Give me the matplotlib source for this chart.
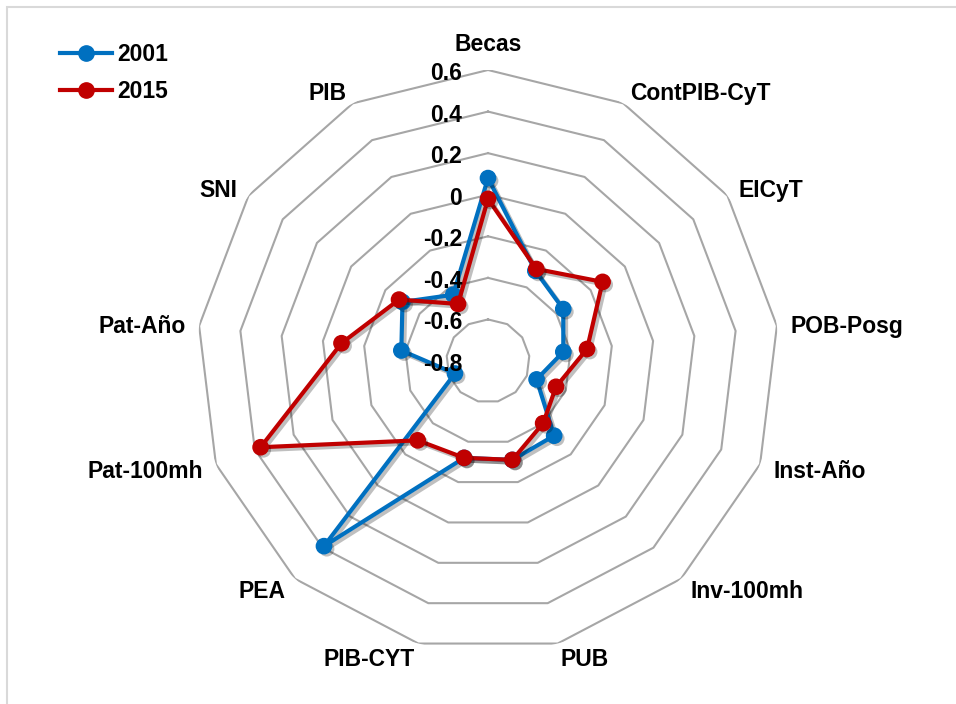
import numpy as np
import matplotlib
matplotlib.use("Agg")
import matplotlib.pyplot as plt
import matplotlib.patheffects as pe
from matplotlib.transforms import ScaledTranslation
from matplotlib.lines import Line2D
from matplotlib.patches import Rectangle

categories = ["Becas", "ContPIB-CyT", "EICyT", "POB-Posg", "Inst-Año", "Inv-100mh",
              "PUB", "PIB-CYT", "PEA", "Pat-100mh", "Pat-Año", "SNI", "PIB"]
v2001 = [0.08, -0.31, -0.36, -0.435, -0.55, -0.32, -0.31, -0.32, 0.39, -0.63, -0.38, -0.30, -0.44]
v2015 = [-0.02, -0.30, -0.13, -0.32, -0.45, -0.40, -0.31, -0.32, -0.29, 0.37, -0.09, -0.28, -0.49]
ring_values = [-0.8, -0.6, -0.4, -0.2, 0, 0.2, 0.4, 0.6]
ring_labels = ["-0.8", "-0.6", "-0.4", "-0.2", "0", "0.2", "0.4", "0.6"]
series_names = ["2001", "2015"]
colors = ["#0070C0", "#C00000"]

plt.rcParams['font.family'] = ['Liberation Sans', 'DejaVu Sans']
FS = 16.5

W, H = 956, 704
fig = plt.figure(figsize=(W / 100, H / 100), dpi=100)
fig.patch.set_facecolor("white")

cx, cy, R = 488, 361, 291
ax = fig.add_axes([(cx - R) / W, 1 - (cy + R) / H, 2 * R / W, 2 * R / H], projection="polar")
ax.set_theta_zero_location("N")
ax.set_theta_direction(-1)
ax.set_ylim(ring_values[0], ring_values[-1])
ax.set_xticks([])
ax.set_yticks([])
ax.grid(False)
ax.spines["polar"].set_visible(False)
ax.patch.set_alpha(0)

n = len(categories)
theta = np.arange(n) * 2 * np.pi / n
theta_c = np.append(theta, theta[0])

# polygon grid rings
for v in ring_values[1:]:
    ax.plot(theta_c, [v] * (n + 1), color="#a6a6a6", lw=1.5, zorder=1)

line_fx = [pe.SimpleLineShadow(offset=(2, -2), shadow_color="k", alpha=0.25), pe.Normal()]
mark_fx = [pe.SimplePatchShadow(offset=(2, -2), shadow_rgbFace="k", alpha=0.25), pe.Normal()]
for vals, col, z in [(v2001, colors[0], 3), (v2015, colors[1], 5)]:
    vc = np.append(vals, vals[0])
    ax.plot(theta_c, vc, color=col, lw=3, zorder=z, path_effects=line_fx, solid_joinstyle="round")
    ax.plot(theta, vals, linestyle="none", marker="o", ms=11, color=col,
            markeredgecolor=col, zorder=z + 0.5, path_effects=mark_fx)

# category labels
rlab = ring_values[-1] + 14 / (41.7 / 0.2)
for t, lab in zip(theta, categories):
    s = np.sin(t)
    if s > 0.05:
        ha = "left"
    elif s < -0.05:
        ha = "right"
    else:
        ha = "center"
    va = "bottom" if abs(s) < 0.05 else "center_baseline"
    ax.text(t, rlab, lab, ha=ha, va=va, fontsize=FS, fontweight="bold",
            clip_on=False, zorder=6)

# radial tick labels
off = ScaledTranslation(-26 / 100, -1 / 100, fig.dpi_scale_trans)
for v, lab in zip(ring_values, ring_labels):
    ax.text(0, v, lab, ha="right", va="center_baseline", fontsize=FS, fontweight="bold",
            transform=ax.transData + off, clip_on=False, zorder=6)

# legend
handles = [Line2D([0], [0], color=c, lw=3, marker="o", ms=11) for c in colors]
fig.legend(handles, series_names, loc="upper left",
           bbox_to_anchor=(60 / W, 1 - 43 / H), frameon=False, borderpad=0,
           borderaxespad=0, handlelength=2.25, handletextpad=0.25,
           labelspacing=0.62, prop={"size": FS, "weight": "bold"})

# chart area border (top/left visible)
fig.add_artist(Rectangle((7 / W, -0.1), 1.2, 1 - 7 / H + 0.1, transform=fig.transFigure,
                         fill=False, edgecolor="#d9d9d9", lw=1.5))

fig.savefig("out.png", dpi=100, facecolor="white")
